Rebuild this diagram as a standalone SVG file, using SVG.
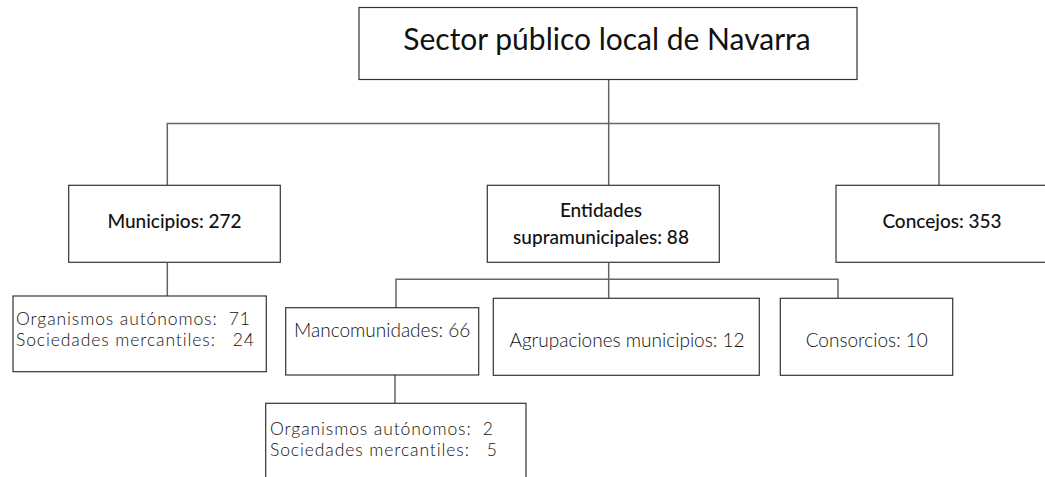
<svg xmlns="http://www.w3.org/2000/svg" width="1045" height="477" viewBox="0 0 1045 477">
<style>
  .box { fill: #fff; stroke: #333; stroke-width: 1.2; }
  .conn { fill: none; stroke: #666; stroke-width: 1.5; }
  text { font-family: Lato, "Open Sans", "DejaVu Sans", sans-serif; fill: #111; white-space: pre; }
  .title { font-size: 30px; font-weight: 400; }
  .med { font-size: 19px; font-weight: 500; }
  .light { font-size: 19px; font-weight: 300; }
  .pair { font-size: 17.5px; font-weight: 300; letter-spacing: 0.9px; }
</style>
<rect width="1045" height="477" fill="#fff"/>
<g id="connectors">
  <path class="conn" d="M608.7,79.3 V185.3"/>
  <path class="conn" d="M167.3,185.3 V123.5 H939 V185.3"/>
  <path class="conn" d="M167.3,262.3 V296"/>
  <path class="conn" d="M608.7,262.3 V298.3"/>
  <path class="conn" d="M396,307.7 V279.3 H838 V298.3"/>
  <path class="conn" d="M395,375 V403.3"/>
</g>
<g id="sector">
  <rect class="box" x="359" y="7.5" width="498" height="72"/>
  <text class="title" x="607" y="50" text-anchor="middle">Sector público local de Navarra</text>
</g>
<g id="municipios">
  <rect class="box" x="68.7" y="185.3" width="211.6" height="77"/>
  <text class="med" x="174.5" y="228.3" text-anchor="middle">Municipios: 272</text>
</g>
<g id="entidades">
  <rect class="box" x="487.3" y="185.3" width="232" height="77"/>
  <text class="med" x="601" y="216.7" text-anchor="middle">Entidades</text>
  <text class="med" x="601" y="244" text-anchor="middle">supramunicipales: 88</text>
</g>
<g id="concejos">
  <rect class="box" x="836" y="185.3" width="236" height="77"/>
  <text class="med" x="942" y="228" text-anchor="middle">Concejos: 353</text>
</g>
<g id="org-municipios">
  <rect class="box" x="13" y="296" width="253.3" height="75.7"/>
  <text class="pair" x="16" y="325">Organismos autónomos:  71</text>
  <text class="pair" x="16" y="346.3">Sociedades mercantiles:   24</text>
</g>
<g id="mancomunidades">
  <rect class="box" x="285.7" y="307.7" width="193" height="67.3"/>
  <text class="light" x="382.2" y="336.7" text-anchor="middle">Mancomunidades: 66</text>
</g>
<g id="agrupaciones">
  <rect class="box" x="493.3" y="298.3" width="266" height="77"/>
  <text class="light" x="627" y="347.3" text-anchor="middle">Agrupaciones municipios: 12</text>
</g>
<g id="consorcios">
  <rect class="box" x="780.3" y="298.3" width="172.4" height="77"/>
  <text class="light" x="866.8" y="347.3" text-anchor="middle">Consorcios: 10</text>
</g>
<g id="org-mancomunidades">
  <rect class="box" x="265.7" y="403.3" width="260.3" height="90"/>
  <text class="pair" x="270" y="434.5">Organismos autónomos:  2</text>
  <text class="pair" x="270" y="455.8">Sociedades mercantiles:   5</text>
</g>
</svg>
